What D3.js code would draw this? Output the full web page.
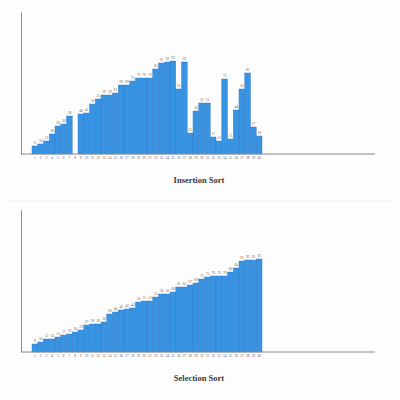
<!DOCTYPE html>
<html>
<head>
<meta charset="utf-8">
<script src="https://cdn.jsdelivr.net/npm/d3@7"></script>
<style>
  body { margin: 0; background: #fdfdfd; }
</style>
</head>
<body>
<div id="chart"></div>
<script>
// bar values (one per position 1..40)
var positions = d3.range(1, 41);
var insertionValues = [8, 10, 13, 20, 28, 30, 38, 0, 40, 41, 50, 55, 59, 59, 61, 69, 69, 73, 76, 76,
                       76, 85, 91, 92, 93, 65, 92, 21, 43, 51, 51, 17, 13, 75, 15, 44, 65, 81, 27, 18];
var selectionValues = [8, 10, 13, 13, 15, 17, 18, 20, 22, 27, 28, 28, 30, 38, 40, 42, 43, 44, 50, 51,
                       51, 55, 58, 58, 60, 65, 65, 67, 69, 73, 75, 76, 76, 76, 80, 84, 91, 92, 92, 93];
var titles = ["Insertion Sort", "Selection Sort"];

var width = 400, height = 400;

var svg = d3.select("#chart")
  .append("svg")
    .attr("width", width)
    .attr("height", height);

// light separator between the two panels
svg.append("line")
  .attr("x1", 8).attr("x2", 392)
  .attr("y1", 201).attr("y2", 201)
  .attr("stroke", "#ececec");

function drawPanel(values, title, top) {
  var g = svg.append("g")
    .attr("transform", "translate(0," + top + ")");

  var x = d3.scaleBand()
    .domain(positions)
    .range([32, 262])
    .padding(0);

  var y = d3.scaleLinear()
    .domain([0, 142])
    .range([142, 0]);

  // bars
  g.selectAll("rect")
    .data(values)
    .enter()
    .append("rect")
      .attr("x", function(d, i) { return x(positions[i]); })
      .attr("y", function(d) { return y(d); })
      .attr("width", x.bandwidth())
      .attr("height", function(d) { return y(0) - y(d); })
      .attr("fill", "#3893e3")
      .attr("stroke", "#2d78c2")
      .attr("stroke-width", 0.4);

  // value labels
  g.selectAll(".val")
    .data(values)
    .enter()
    .append("text")
      .attr("class", "val")
      .attr("x", function(d, i) { return x(positions[i]) + x.bandwidth() / 2; })
      .attr("y", function(d) { return y(d) - 2; })
      .attr("text-anchor", "middle")
      .style("font-family", "Liberation Serif, serif")
      .style("font-size", "3.5px")
      .style("fill", "#6e5c4c")
      .text(function(d) { return d > 0 ? d : ""; });

  // y axis (line only)
  g.append("g")
    .attr("transform", "translate(21,0)")
    .call(d3.axisLeft(y).tickValues([]).tickSizeOuter(0))
    .select(".domain")
      .attr("stroke", "#8a8a8a");

  // baseline
  g.append("line")
    .attr("x1", 21).attr("x2", 375)
    .attr("y1", y(0)).attr("y2", y(0))
    .attr("stroke", "#8a8a8a");

  // position labels
  var xa = g.append("g")
    .attr("transform", "translate(0," + y(0) + ")")
    .call(d3.axisBottom(x).tickSize(0).tickPadding(3));
  xa.select(".domain").remove();
  xa.selectAll("text")
    .style("font-family", "Liberation Serif, serif")
    .style("font-size", "3.3px")
    .style("fill", "#555");

  // title
  g.append("text")
    .attr("x", 199)
    .attr("y", 171)
    .attr("text-anchor", "middle")
    .style("font-family", "Liberation Serif, serif")
    .style("font-weight", "bold")
    .style("font-size", "8.5px")
    .style("fill", "#3a3a3a")
    .text(title);
}

drawPanel(insertionValues, titles[0], 12);
drawPanel(selectionValues, titles[1], 210);
</script>
</body>
</html>
